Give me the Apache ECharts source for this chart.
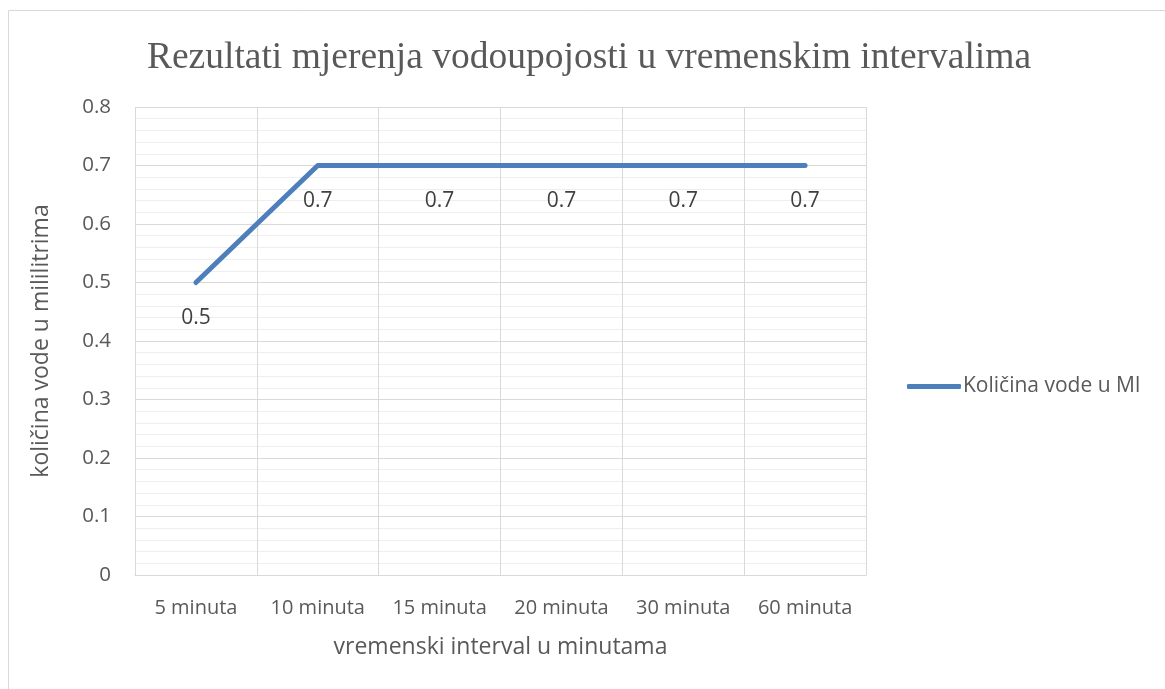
<!DOCTYPE html>
<html>
<head>
<meta charset="utf-8">
<script src="https://cdn.jsdelivr.net/npm/echarts@6/dist/echarts.min.js"></script>
<style>
  html, body { margin: 0; padding: 0; background: #fff; }
  #chart { width: 1165px; height: 689px; }
</style>
</head>
<body>
<div id="chart"></div>
<script>
// podaci
const categories = ['5 minuta', '10 minuta', '15 minuta', '20 minuta', '30 minuta', '60 minuta'];
const kolicinaVode = [0.5, 0.7, 0.7, 0.7, 0.7, 0.7];
const seriesName = 'Količina vode u Ml';

const chart = echarts.init(document.getElementById('chart'));
const font = 'Open Sans';

chart.setOption({
    animation: false,
    backgroundColor: '#fff',
    graphic: [{
        type: 'rect',
        shape: { x: 8.5, y: 10.5, width: 1300, height: 800 },
        style: { fill: 'none', stroke: '#d9d9d9', lineWidth: 1 },
        silent: true
    }],
    title: {
        text: 'Rezultati mjerenja vodoupojosti u vremenskim intervalima',
        left: 584,
        top: 34,
        textAlign: 'center',
        textStyle: {
            fontFamily: 'Liberation Serif',
            fontSize: 37.5,
            fontWeight: 'normal',
            color: '#595959'
        }
    },
    legend: {
        data: [seriesName],
        left: 902,
        top: 371,
        icon: 'roundRect',
        itemWidth: 54,
        itemHeight: 5,
        textStyle: { fontFamily: font, fontSize: 21, color: '#595959', padding: [0, 0, 0, -3] }
    },
    grid: {
        left: 135,
        right: 299,
        top: 107,
        bottom: 114
    },
    xAxis: {
        type: 'category',
        data: categories,
        boundaryGap: true,
        name: 'vremenski interval u minutama',
        nameLocation: 'middle',
        nameGap: 61,
        nameTextStyle: { fontFamily: font, fontSize: 23, color: '#595959' },
        axisLine: { lineStyle: { color: '#d9d9d9', width: 1 } },
        axisTick: { show: false },
        axisLabel: { interval: 0, hideOverlap: false, fontFamily: font, fontSize: 20, color: '#595959', margin: 23 },
        splitLine: { show: true, interval: 0, lineStyle: { color: '#d9d9d9', width: 1 } }
    },
    yAxis: {
        type: 'value',
        min: 0,
        max: 0.8,
        interval: 0.1,
        name: 'količina vode u mililitrima',
        nameLocation: 'middle',
        nameGap: 82,
        nameTextStyle: { fontFamily: font, fontSize: 23, color: '#595959' },
        axisLine: { show: false },
        axisTick: { show: false },
        axisLabel: { fontFamily: font, fontSize: 20.5, color: '#595959', margin: 24 },
        splitLine: { lineStyle: { color: '#d9d9d9', width: 1 } },
        minorTick: { show: false, splitNumber: 5 },
        minorSplitLine: { show: true, lineStyle: { color: '#eeeeee', width: 1 } }
    },
    series: [{
        name: seriesName,
        type: 'line',
        data: kolicinaVode,
        symbol: 'circle',
        symbolSize: 0,
        showSymbol: true,
        lineStyle: { color: '#4e7fbd', width: 5, cap: 'round', join: 'round' },
        itemStyle: { color: '#4e7fbd' },
        label: {
            show: true,
            position: 'bottom',
            distance: 25,
            fontFamily: font,
            fontSize: 21,
            color: '#404040'
        }
    }]
});
</script>
</body>
</html>
